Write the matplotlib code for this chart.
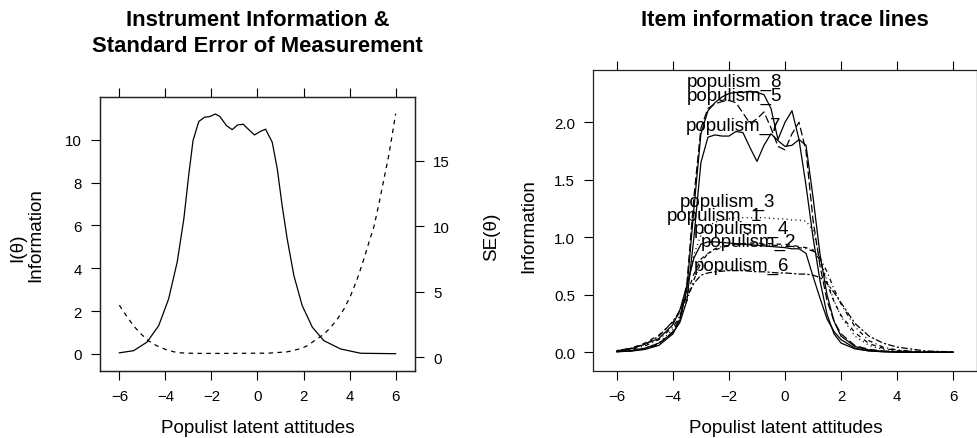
import matplotlib
matplotlib.use('Agg')
import matplotlib.pyplot as plt
from matplotlib.ticker import FormatStrFormatter

plt.rcParams['font.family'] = ['Liberation Sans', 'DejaVu Sans']
plt.rcParams['lines.scale_dashes'] = False

# --- left panel: test information and standard error ---
theta_info = [-6, -5.38, -4.8, -4.29, -3.86, -3.49, -3.2, -2.99, -2.8, -2.55, -2.3, -2.07,
              -1.83, -1.64, -1.35, -1.1, -0.86, -0.62, -0.38, -0.13, 0.13, 0.35, 0.64, 0.86,
              1.07, 1.29, 1.58, 1.94, 2.38, 2.88, 3.61, 4.48, 6]
info = [0.05, 0.15, 0.55, 1.32, 2.57, 4.28, 6.3, 8.33, 9.97, 10.86, 11.06, 11.09,
        11.21, 11.1, 10.67, 10.48, 10.7, 10.73, 10.48, 10.23, 10.4, 10.5, 9.89, 8.64,
        6.93, 5.37, 3.66, 2.26, 1.25, 0.62, 0.23, 0.03, 0.01]

theta_se = [-6, -5.67, -5.38, -5.09, -4.73, -4.36, -3.93, -3.49, -3.06, -2.5, -1.5, -0.5,
            0.5, 1.29, 1.87, 2.16, 2.52, 2.88, 3.17, 3.46, 3.75, 4.04, 4.33, 4.62, 4.84,
            5.06, 5.27, 5.49, 5.71, 6]
se = [3.98, 3.11, 2.4, 1.84, 1.25, 0.87, 0.56, 0.36, 0.32, 0.3, 0.3, 0.31,
      0.32, 0.42, 0.66, 0.88, 1.33, 1.76, 2.27, 2.9, 3.67, 4.69, 5.97, 7.5, 8.78,
      10.0, 11.7, 13.6, 15.5, 18.6]

# --- right panel: item information trace lines ---
theta_items = [-6, -5.5, -5, -4.5, -4, -3.75, -3.5, -3.25, -3, -2.75, -2.5, -2.25, -2,
               -1.75, -1.5, -1.25, -1, -0.75, -0.5, -0.25, 0, 0.25, 0.5, 0.75, 1, 1.25,
               1.5, 1.75, 2, 2.5, 3, 3.5, 4, 5, 6]

populism_1 = [0.012, 0.03, 0.07, 0.12, 0.24, 0.37, 0.58, 0.82, 0.94, 0.96, 0.96, 0.955, 0.95,
              0.945, 0.94, 0.935, 0.93, 0.925, 0.92, 0.915, 0.91, 0.9, 0.9, 0.86, 0.66, 0.47,
              0.29, 0.18, 0.11, 0.035, 0.012, 0.005, 0.002, 0.0, 0.0]
populism_2 = [0.01, 0.035, 0.08, 0.15, 0.26, 0.35, 0.5, 0.68, 0.81, 0.86, 0.89, 0.91, 0.93,
              0.94, 0.945, 0.95, 0.95, 0.945, 0.945, 0.94, 0.94, 0.93, 0.92, 0.91, 0.89, 0.8,
              0.6, 0.44, 0.32, 0.17, 0.075, 0.035, 0.015, 0.003, 0.001]
populism_3 = [0.005, 0.015, 0.035, 0.08, 0.2, 0.32, 0.55, 0.85, 1.02, 1.1, 1.13, 1.15, 1.16,
              1.17, 1.17, 1.17, 1.17, 1.17, 1.165, 1.16, 1.16, 1.15, 1.15, 1.14, 1.06, 0.82,
              0.62, 0.45, 0.31, 0.14, 0.06, 0.025, 0.01, 0.002, 0.0]
populism_4 = [0.008, 0.025, 0.055, 0.11, 0.22, 0.31, 0.45, 0.63, 0.78, 0.86, 0.9, 0.92, 0.93,
              0.935, 0.94, 0.94, 0.94, 0.935, 0.93, 0.93, 0.92, 0.92, 0.91, 0.9, 0.88, 0.82,
              0.7, 0.55, 0.42, 0.22, 0.1, 0.045, 0.02, 0.004, 0.001]
populism_5 = [0.005, 0.012, 0.03, 0.07, 0.18, 0.3, 0.6, 1.35, 1.95, 2.12, 2.16, 2.18, 2.19,
              2.17, 2.08, 1.99, 2.03, 2.09, 1.95, 1.79, 1.76, 1.9, 2.0, 1.75, 1.15, 0.75,
              0.45, 0.27, 0.16, 0.058, 0.025, 0.012, 0.006, 0.001, 0.0]
populism_6 = [0.015, 0.035, 0.07, 0.14, 0.27, 0.36, 0.48, 0.6, 0.67, 0.69, 0.7, 0.705, 0.71,
              0.71, 0.71, 0.705, 0.7, 0.7, 0.695, 0.69, 0.69, 0.685, 0.68, 0.68, 0.67, 0.65,
              0.6, 0.52, 0.43, 0.25, 0.14, 0.08, 0.045, 0.012, 0.003]
populism_7 = [0.006, 0.015, 0.035, 0.08, 0.17, 0.26, 0.45, 1.0, 1.65, 1.87, 1.89, 1.88, 1.88,
              1.92, 1.91, 1.78, 1.66, 1.8, 1.9, 1.84, 1.79, 1.8, 1.85, 1.8, 1.35, 0.85,
              0.5, 0.27, 0.14, 0.05, 0.02, 0.008, 0.003, 0.0, 0.0]
populism_8 = [0.005, 0.01, 0.025, 0.06, 0.16, 0.28, 0.55, 1.25, 1.9, 2.1, 2.17, 2.22, 2.25,
              2.26, 2.26, 2.27, 2.26, 2.24, 2.12, 1.85, 2.0, 2.1, 1.85, 1.45, 1.0, 0.62,
              0.33, 0.16, 0.08, 0.03, 0.012, 0.005, 0.002, 0.0, 0.0]

item_names = ['populism_1', 'populism_2', 'populism_3', 'populism_4',
              'populism_5', 'populism_6', 'populism_7', 'populism_8']
item_values = [populism_1, populism_2, populism_3, populism_4,
               populism_5, populism_6, populism_7, populism_8]

# where the item labels sit (theta, baseline)
label_theta = [-2.52, -1.31, -2.07, -1.56, -1.81, -1.56, -1.85, -1.81]
label_level = [1.153, 0.927, 1.275, 1.043, 2.197, 0.72, 1.936, 2.318]

# R lty 1..7 then recycled
u = 0.8
lty = ['-', (0, (4*u, 4*u)), (0, (1*u, 3*u)), (0, (1*u, 3*u, 4*u, 3*u)),
       (0, (7*u, 3*u)), (0, (2*u, 2*u, 6*u, 2*u)), '-', '-']

W, H = 978, 439
fig = plt.figure(figsize=(W/100, H/100), dpi=100)


def box(x0, y0, x1, y1):
    return [x0/W, 1 - y1/H, (x1 - x0)/W, (y1 - y0)/H]


def px_text(x, y, s, **kw):
    fig.text(x/W, 1 - y/H, s, **kw)


frame_col = '#222222'
tick_kw = dict(direction='out', length=6.5, width=0.8, pad=6.5, labelsize=10.8,
               colors='black')


def style_frame(ax):
    for sp in ax.spines.values():
        sp.set_color(frame_col)
        sp.set_linewidth(0.9)


# left panel
ax1 = fig.add_axes(box(100, 98.3, 415, 371.7))
ax1.plot(theta_info, info, color='black', lw=0.9)
ax1.set_xlim(-6.84, 6.84)
ax1.set_ylim(-0.785, 11.99)
ax1.set_xticks(range(-6, 7, 2))
ax1.set_yticks(range(0, 11, 2))
ax1.tick_params(axis='both', top=True, right=False, **tick_kw)
ax1.tick_params(axis='x', labeltop=False)
style_frame(ax1)

ax2 = ax1.twinx()
ax2.plot(theta_se, se, color='black', lw=0.9, linestyle=(0, (4*u, 4*u)))
ax2.set_ylim(-1.02, 19.85)
ax2.set_yticks([0, 5, 10, 15])
ax2.tick_params(axis='y', **tick_kw)
style_frame(ax2)

# right panel
ax3 = fig.add_axes(box(593.3, 70.7, 976.7, 371.7))
for name, vals, ls in zip(item_names, item_values, lty):
    ax3.plot(theta_items, vals, color='black', lw=0.9, linestyle=ls)
for name, tx, ty in zip(item_names, label_theta, label_level):
    ax3.text(tx, ty, name, ha='center', va='baseline', fontsize=13.5)
ax3.set_xlim(-6.84, 6.84)
ax3.set_ylim(-0.16, 2.457)
ax3.set_xticks(range(-6, 7, 2))
ax3.set_yticks([0, 0.5, 1.0, 1.5, 2.0])
ax3.yaxis.set_major_formatter(FormatStrFormatter('%.1f'))
ax3.tick_params(axis='both', top=True, right=True, **tick_kw)
ax3.tick_params(axis='x', labeltop=False)
ax3.tick_params(axis='y', labelright=False)
style_frame(ax3)

# titles
px_text(257.5, 26.5, 'Instrument Information &', ha='center', va='baseline',
        fontsize=15.8, fontweight='bold')
px_text(257.5, 52.5, 'Standard Error of Measurement', ha='center', va='baseline',
        fontsize=15.8, fontweight='bold')
px_text(785, 26.5, 'Item information trace lines', ha='center', va='baseline',
        fontsize=15.8, fontweight='bold')

# axis labels
px_text(257.5, 432.7, 'Populist latent attitudes', ha='center', va='baseline', fontsize=13.6)
px_text(785.5, 432.7, 'Populist latent attitudes', ha='center', va='baseline', fontsize=13.6)
px_text(17.5, 248, 'I(θ)', ha='center', va='center', rotation=90, fontsize=13.6)
px_text(35.8, 235, 'Information', ha='center', va='center', rotation=90, fontsize=13.6)
px_text(491.7, 237, 'SE(θ)', ha='center', va='center', rotation=90, fontsize=13.6)
px_text(529, 226.5, 'Information', ha='center', va='center', rotation=90, fontsize=13.6)

fig.savefig('out.png', dpi=100)
